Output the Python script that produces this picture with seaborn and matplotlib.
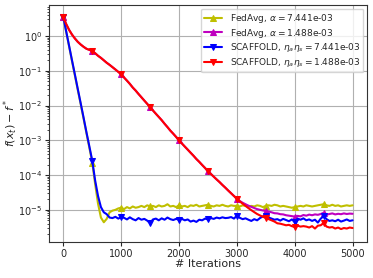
import numpy as np
import matplotlib
matplotlib.use("Agg")
import matplotlib.pyplot as plt
from matplotlib.ticker import NullFormatter
import seaborn as sns

iters = np.arange(0, 5001, 50)

fedavg_hi = [
    3.5, 1.3, 0.5, 0.19, 0.073, 0.028, 0.011, 0.0042, 0.0016, 6.1e-4,
    2.3e-4, 5.5e-5, 1.5e-5, 6.0e-6, 4.4e-6, 5.5e-6, 8.5e-6, 9.5e-6, 1.0e-5, 1.1e-5,
    1.15e-5, 1.05e-5, 1.2e-5, 1.1e-5, 1.25e-5, 1.15e-5, 1.2e-5, 1.3e-5, 1.2e-5, 1.35e-5,
    1.25e-5, 1.3e-5, 1.2e-5, 1.35e-5, 1.25e-5, 1.3e-5, 1.45e-5, 1.25e-5, 1.3e-5, 1.2e-5,
    1.35e-5, 1.25e-5, 1.3e-5, 1.2e-5, 1.35e-5, 1.3e-5, 1.4e-5, 1.25e-5, 1.3e-5, 1.35e-5,
    1.4e-5, 1.3e-5, 1.25e-5, 1.35e-5, 1.3e-5, 1.4e-5, 1.3e-5, 1.25e-5, 1.35e-5, 1.3e-5,
    1.3e-5, 1.25e-5, 1.35e-5, 1.3e-5, 1.2e-5, 1.3e-5, 1.25e-5, 1.35e-5, 1.3e-5, 1.2e-5,
    1.3e-5, 1.35e-5, 1.3e-5, 1.4e-5, 1.35e-5, 1.25e-5, 1.3e-5, 1.25e-5, 1.2e-5, 1.15e-5,
    1.2e-5, 1.25e-5, 1.3e-5, 1.25e-5, 1.35e-5, 1.3e-5, 1.25e-5, 1.3e-5, 1.35e-5, 1.4e-5,
    1.45e-5, 1.35e-5, 1.3e-5, 1.4e-5, 1.3e-5, 1.35e-5, 1.25e-5, 1.3e-5, 1.35e-5, 1.3e-5,
    1.35e-5,
]

scaffold_lo = [
    3.5, 2.2, 1.5, 1.1, 0.85, 0.68, 0.57, 0.49, 0.43, 0.40,
    0.37, 0.32, 0.27, 0.235, 0.20, 0.17, 0.148, 0.127, 0.109, 0.093,
    0.08, 0.064, 0.052, 0.042, 0.033, 0.027, 0.0215, 0.0173, 0.0139, 0.0112,
    0.009, 0.0072, 0.0058, 0.0047, 0.0038, 0.003, 0.0024, 0.0019, 0.00155, 0.00125,
    0.001, 8.1e-4, 6.6e-4, 5.4e-4, 4.4e-4, 3.6e-4, 2.9e-4, 2.4e-4, 1.95e-4, 1.6e-4,
    1.3e-4, 1.08e-4, 9.0e-5, 7.5e-5, 6.3e-5, 5.2e-5, 4.35e-5, 3.6e-5, 3.0e-5, 2.5e-5,
    2.1e-5, 1.75e-5, 1.5e-5, 1.3e-5, 1.12e-5, 9.8e-6, 8.6e-6, 7.6e-6, 6.9e-6, 6.3e-6,
    5.9e-6, 5.4e-6, 5.0e-6, 4.6e-6, 4.1e-6, 4.0e-6, 3.8e-6, 3.6e-6, 3.7e-6, 3.4e-6,
    3.2e-6, 3.5e-6, 3.3e-6, 3.4e-6, 3.3e-6, 3.1e-6, 3.4e-6, 2.9e-6, 3.5e-6, 3.6e-6,
    4.2e-6, 3.3e-6, 3.1e-6, 3.2e-6, 2.9e-6, 3.1e-6, 2.8e-6, 3.0e-6, 2.9e-6, 3.1e-6,
    3.0e-6,
]

fedavg_lo = scaffold_lo[:61] + [
    1.8e-5, 1.6e-5, 1.45e-5, 1.32e-5, 1.22e-5, 1.13e-5, 1.05e-5, 1.0e-5, 9.6e-6,
    9.3e-6, 8.9e-6, 8.5e-6, 8.0e-6, 7.9e-6, 7.5e-6, 7.4e-6, 7.0e-6, 6.8e-6, 6.6e-6,
    6.4e-6, 6.7e-6, 6.5e-6, 7.1e-6, 6.8e-6, 7.3e-6, 7.0e-6, 7.4e-6, 7.2e-6, 7.6e-6,
    8.2e-6, 7.3e-6, 7.6e-6, 7.9e-6, 7.4e-6, 7.7e-6, 7.5e-6, 7.9e-6, 7.6e-6, 7.8e-6,
    7.7e-6,
]

scaffold_hi = [
    3.5, 1.35, 0.52, 0.20, 0.078, 0.030, 0.0117, 0.0045, 0.0017, 6.7e-4,
    2.6e-4, 7e-5, 2.5e-5, 1.2e-5, 8.5e-6, 7.5e-6, 6.0e-6, 5.8e-6, 6.3e-6, 5.6e-6,
    6.2e-6, 5.9e-6, 5.3e-6, 6.1e-6, 5.4e-6, 5.0e-6, 5.8e-6, 5.2e-6, 5.5e-6, 4.9e-6,
    4.2e-6, 5.3e-6, 5.6e-6, 5.0e-6, 5.7e-6, 5.2e-6, 6.0e-6, 5.4e-6, 5.1e-6, 5.5e-6,
    5.2e-6, 5.5e-6, 5.0e-6, 5.3e-6, 4.6e-6, 4.9e-6, 4.5e-6, 5.2e-6, 5.0e-6, 5.6e-6,
    5.3e-6, 5.8e-6, 5.5e-6, 6.0e-6, 5.7e-6, 6.1e-6, 5.8e-6, 5.9e-6, 6.2e-6, 5.6e-6,
    6.8e-6, 5.9e-6, 5.4e-6, 5.7e-6, 5.2e-6, 4.8e-6, 5.4e-6, 5.0e-6, 5.8e-6, 6.5e-6,
    6.8e-6, 6.0e-6, 5.6e-6, 5.2e-6, 5.4e-6, 4.9e-6, 5.5e-6, 5.1e-6, 4.7e-6, 5.3e-6,
    4.5e-6, 5.6e-6, 5.2e-6, 5.7e-6, 5.0e-6, 5.3e-6, 4.8e-6, 5.2e-6, 4.3e-6, 5.6e-6,
    6.6e-6, 5.4e-6, 4.8e-6, 5.0e-6, 4.7e-6, 5.2e-6, 4.6e-6, 4.9e-6, 5.3e-6, 4.8e-6,
    5.0e-6,
]

series = [
    (fedavg_hi, r"FedAvg, $\alpha = $7.441e-03", "y", "^"),
    (fedavg_lo, r"FedAvg, $\alpha = $1.488e-03", "m", "^"),
    (scaffold_hi, r"SCAFFOLD, $\eta_a\eta_s = $7.441e-03", "b", "v"),
    (scaffold_lo, r"SCAFFOLD, $\eta_a\eta_s = $1.488e-03", "r", "v"),
]

sns.set_style("ticks")
plt.rcParams["font.family"] = ["DejaVu Sans"]

fig = plt.figure(figsize=(3.73, 2.78), dpi=100)
ax = fig.add_axes([0.131, 0.13, 0.853, 0.852])

for vals, label, color, mk in series:
    sns.lineplot(x=iters, y=vals, ax=ax, color=color, label=label,
                 marker=mk, markevery=slice(0, 100, 10), markersize=5,
                 linewidth=1.5, markeredgecolor=color)

ax.set_yscale("log")
ax.set_xlim(-250, 5250)
ax.set_ylim(1.2e-6, 7.8)
ax.set_xticks([0, 1000, 2000, 3000, 4000, 5000])
ax.yaxis.set_minor_formatter(NullFormatter())
ax.grid(True, color="#b0b0b0", linewidth=0.8)
for s in ax.spines.values():
    s.set_color("#333333")
ax.tick_params(labelsize=7, length=3, pad=2)
ax.tick_params(which="minor", length=1.5)
ax.set_xlabel("# Iterations", fontsize=8, labelpad=0)
ax.set_ylabel(r"$f(x_t) - f^*$", fontsize=8)
ax.yaxis.set_label_coords(-0.092, 0.5)
ax.legend(loc="upper right", fontsize=6.5, framealpha=0.8, handlelength=2.0,
          borderaxespad=0.4, labelspacing=0.2, borderpad=0.35)

fig.savefig("out.png", dpi=100)
